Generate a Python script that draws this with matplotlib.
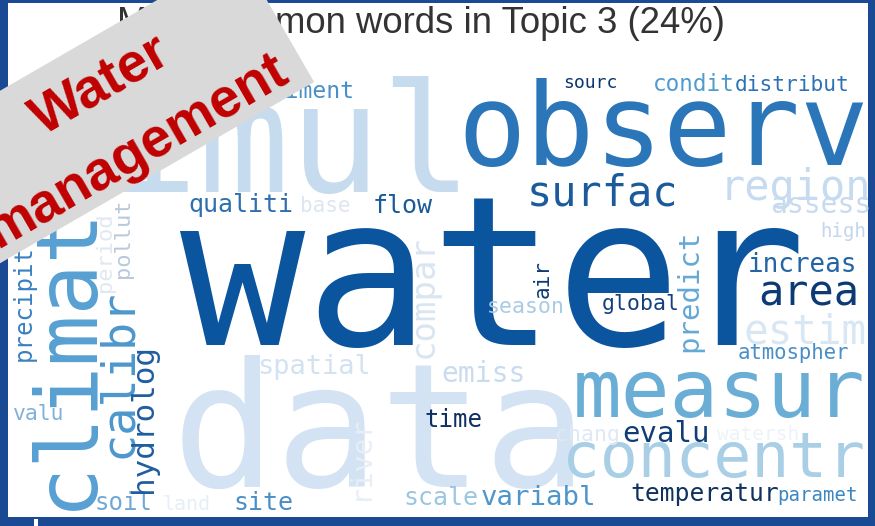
import matplotlib
matplotlib.use("Agg")
import matplotlib.pyplot as plt
from matplotlib.patches import Rectangle, Polygon
import numpy as np

# ---------------- data ----------------
title = "Most common words in Topic 3 (24%)"
banner_lines = ["Water", "management"]

# horizontal words: word, weight (font em size in px)
h_words = ["water", "data", "simul", "observ", "measur", "concentr", "surfac", "region",
           "area", "estim", "sediment", "sourc", "condit", "distribut", "qualiti", "base",
           "flow", "assess", "high", "increas", "atmospher", "season", "global", "spatial",
           "emiss", "time", "chang", "evalu", "watersh", "temperatur", "paramet", "scale",
           "variabl", "site", "soil", "land", "valu"]
h_weights = [208, 173, 152, 114, 81, 63, 42, 42,
             42, 41, 23, 18, 22.6, 21.3, 25, 21,
             25, 28, 19, 26, 20.6, 21.5, 21.5, 27,
             28, 24, 21.5, 29, 19.5, 24.6, 19, 25,
             27.4, 25, 24, 20, 21.4]

# vertical words (read bottom to top)
v_words = ["climat", "precipit", "calibr", "hydrolog", "pollut", "period", "compar",
           "air", "predict", "river"]
v_weights = [85, 24, 47, 31, 22, 22, 34, 21, 29, 28]

# ---------------- layout / style ----------------
h_x = [180, 172, 15, 457, 573, 562, 527, 720,
       758, 743, 244, 563, 653, 735, 188, 300,
       373, 770, 820, 748, 738, 487, 602, 257,
       441, 424, 555, 622, 717, 630, 777, 403,
       481, 233, 95, 162, 13]
h_y = [345, 487, 192, 165, 417, 477, 206, 200,
       305, 343, 98, 88, 91, 91, 212, 212,
       213, 213, 237, 272, 359, 313, 310, 374,
       382, 427, 441, 442, 440, 501, 501, 505,
       505, 510, 510, 510, 420]
h_colors = ["#0b559f", "#d4e3f3", "#c7dbef", "#2a76b9", "#6aaed6", "#a9cfe6", "#1b5b9c", "#c6dbef",
            "#0b3a74", "#d9e7f5", "#4a90c8", "#0c3670", "#4f9bd0", "#2c72b5", "#2f6fb0", "#dde6f0",
            "#1b5a9a", "#c6dbef", "#c3d7ec", "#2265a5", "#4a8ec8", "#a8cbe6", "#143f7a", "#d3e2f1",
            "#c9dbee", "#0d2f63", "#dfe9f5", "#113d77", "#edf3f9", "#0f325f", "#3c86c2", "#9ac6e2",
            "#4e95cc", "#4a8ec8", "#6fa8d6", "#e6eef7", "#7fb2da"]

v_x = [90, 31, 131, 152, 129, 111, 433, 549, 697, 368]
v_y = [510, 361, 458, 493, 278, 292, 358, 298, 352, 500]
v_colors = ["#57a0d2", "#3a80c0", "#4d97cd", "#1f5d9f", "#b9c9dc", "#e0e8f1", "#d9e5f1",
            "#0f3b73", "#64a8d6", "#e7eef6"]

W, H = 875, 526
PX2PT = 72.0 / 100.0

fig = plt.figure(figsize=(8.75, 5.26), dpi=100)
fig.patch.set_facecolor("#1a4a93")
ax = fig.add_axes([0, 0, 1, 1])
ax.set_xlim(0, W)
ax.set_ylim(H, 0)
ax.axis("off")

# white panel
ax.add_patch(Rectangle((8, 3), 860, 514, facecolor="white", edgecolor="none", zorder=0))
ax.add_patch(Rectangle((34, 519), 4, 7, facecolor="white", edgecolor="none", zorder=0))

mono = "DejaVu Sans Mono"
for w, s, x, y, c in zip(h_words, h_weights, h_x, h_y, h_colors):
    ax.text(x, y, w, fontsize=s * PX2PT, family=mono, color=c, ha="left", va="baseline",
            rotation=0, rotation_mode="anchor", zorder=2)
for w, s, x, y, c in zip(v_words, v_weights, v_x, v_y, v_colors):
    ax.text(x, y, w, fontsize=s * PX2PT, family=mono, color=c, ha="left", va="baseline",
            rotation=90, rotation_mode="anchor", zorder=2)

# title
ax.text(421, 33, title, fontsize=36.5 * PX2PT, family="Liberation Sans", color="#333333",
        ha="center", va="baseline", zorder=3)

# banner (rotated 30 degrees)
ang = np.deg2rad(30)
u = np.array([np.cos(ang), -np.sin(ang)])
n = np.array([np.sin(ang), np.cos(ang)])
a0, a1 = -400, 231
b0, b1 = 78.6, 228
corners = [a * u + b * n for a, b in [(a0, b0), (a1, b0), (a1, b1), (a0, b1)]]
ax.add_patch(Polygon(corners, closed=True, facecolor="#d9d9d9", edgecolor="none", zorder=5))
for line, a, b in zip(banner_lines, [44.5, 42.5], [139, 214]):
    p = a * u + b * n
    ax.text(p[0], p[1], line, fontsize=55 * PX2PT, family="Liberation Sans", weight="bold",
            color="#c00000", ha="center", va="baseline", rotation=30,
            rotation_mode="anchor", zorder=6)

fig.savefig("out.png", dpi=100, facecolor=fig.get_facecolor())
